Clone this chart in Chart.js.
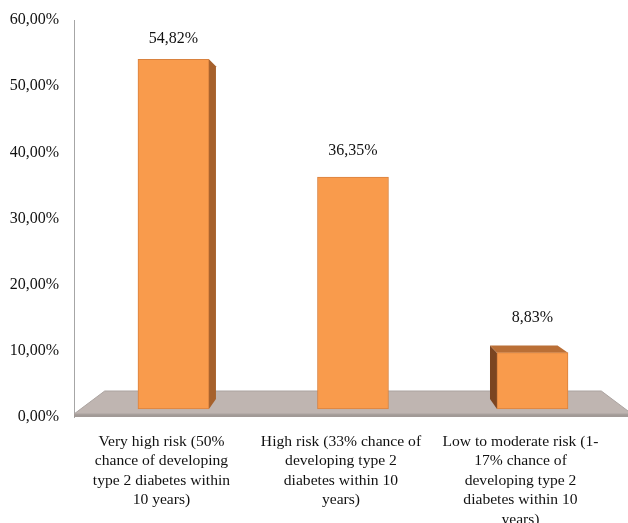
<!DOCTYPE html>
<html>
<head>
<meta charset="utf-8">
<script src="https://cdn.jsdelivr.net/npm/chart.js@4"></script>
<style>
  html, body { margin: 0; padding: 0; background: #ffffff; overflow: hidden; }
  canvas { display: block; }
</style>
</head>
<body>
<canvas id="chart" width="628" height="523"></canvas>
<script>
// Risk groups (wrapped as they appear under the floor)
const categoryLines = [
  ["Very high risk (50%", "chance of developing", "type 2 diabetes within", "10 years)"],
  ["High risk (33% chance of", "developing type 2", "diabetes within 10", "years)"],
  ["Low to moderate risk (1-", "17% chance of", "developing type 2", "diabetes within 10", "years)"]
];
// Share of participants in each group (%)
const riskShare = [54.82, 36.35, 8.83];
// Percentage axis ticks
const percentTicks = [0, 10, 20, 30, 40, 50, 60];

const FONT = "'Liberation Serif', 'Times New Roman', serif";

// Simple perspective: faces recede toward a vanishing point
const VANISH = { x: 353, y: 205 };
const BAR_DEPTH = 0.0486;
const FLOOR_DEPTH = 0.11;

function toward(p, k) {
  return { x: p.x + (VANISH.x - p.x) * k, y: p.y + (VANISH.y - p.y) * k };
}
function fmtPercent(v) {
  return Number(v).toFixed(2).replace('.', ',') + '%';
}
function poly(ctx, pts, fill, stroke) {
  ctx.beginPath();
  ctx.moveTo(pts[0].x, pts[0].y);
  for (let i = 1; i < pts.length; i++) ctx.lineTo(pts[i].x, pts[i].y);
  ctx.closePath();
  ctx.fillStyle = fill;
  ctx.fill();
  if (stroke) { ctx.strokeStyle = stroke; ctx.lineWidth = 1; ctx.stroke(); }
}

const depthPlugin = {
  id: 'depth3d',
  beforeDatasetsDraw(chart) {
    const { ctx, chartArea: a } = chart;
    const edge = 3;
    ctx.save();
    // floor: thin front edge plus receding top face
    const fl = { x: a.left, y: a.bottom - edge };
    const fr = { x: a.right + 4, y: a.bottom - edge };
    const bl = toward(fl, FLOOR_DEPTH);
    const br = toward(fr, FLOOR_DEPTH);
    ctx.fillStyle = '#A29A97';
    ctx.fillRect(a.left, a.bottom - edge, a.right - a.left, edge);
    poly(ctx, [fl, bl, br, fr], '#BFB5B1', '#ABA3A0');

    // side and top faces of each column
    const meta = chart.getDatasetMeta(0);
    meta.data.forEach(bar => {
      const { x, y, base, width } = bar.getProps(['x', 'y', 'base', 'width'], true);
      const L = x - width / 2, R = x + width / 2;
      const ftl = { x: L, y: y }, ftr = { x: R, y: y };
      const fbl = { x: L, y: base }, fbr = { x: R, y: base };
      const btl = toward(ftl, BAR_DEPTH), btr = toward(ftr, BAR_DEPTH);
      const bbl = toward(fbl, BAR_DEPTH), bbr = toward(fbr, BAR_DEPTH);
      if (R < VANISH.x) poly(ctx, [ftr, btr, bbr, fbr], '#A6612C');
      if (L > VANISH.x) poly(ctx, [ftl, btl, bbl, fbl], '#7B4521');
      if (y > VANISH.y) poly(ctx, [ftl, ftr, btr, btl], '#BA6F36');
    });
    ctx.restore();
  },
  afterDatasetsDraw(chart) {
    const { ctx } = chart;
    const meta = chart.getDatasetMeta(0);
    ctx.save();
    ctx.font = '16px ' + FONT;
    ctx.fillStyle = '#111111';
    ctx.textAlign = 'center';
    ctx.textBaseline = 'middle';
    meta.data.forEach((bar, i) => {
      const { x, y } = bar.getProps(['x', 'y'], true);
      const backTop = toward({ x: x, y: y }, BAR_DEPTH).y;
      ctx.fillText(fmtPercent(riskShare[i]), x, backTop - 28);
    });
    ctx.restore();
  }
};

new Chart(document.getElementById('chart'), {
  type: 'bar',
  data: {
    datasets: [{
      data: riskShare.map((v, i) => ({ x: i, y: v })),
      xAxisID: 'x',
      yAxisID: 'yb',
      backgroundColor: '#F99B4C',
      borderColor: '#D9823F',
      borderWidth: 1,
      borderSkipped: false,
      barThickness: 71
    }]
  },
  options: {
    responsive: false,
    animation: false,
    devicePixelRatio: 1,
    layout: { padding: { top: 20, right: 0, bottom: 0, left: 0 } },
    plugins: { legend: { display: false }, tooltip: { enabled: false } },
    scales: {
      x: {
        type: 'linear',
        position: 'bottom',
        min: -0.554,
        max: 2.532,
        offset: false,
        grid: { display: false, drawTicks: false },
        border: { display: false },
        afterBuildTicks: s => { s.ticks = categoryLines.map((_, i) => ({ value: i })); },
        afterFit: s => { s.height = 106; s.paddingLeft = 0; s.paddingRight = 0; },
        ticks: {
          autoSkip: false,
          maxRotation: 0,
          minRotation: 0,
          padding: 15,
          labelOffset: -12,
          color: '#111111',
          font: { family: FONT, size: 15.6, lineHeight: 1.25 },
          callback: v => categoryLines[v]
        }
      },
      y: {
        type: 'linear',
        position: 'left',
        min: 0,
        max: 60,
        grid: { display: false, drawTicks: false },
        border: { display: true, color: '#A6A6A6', width: 1 },
        afterBuildTicks: s => { s.ticks = percentTicks.map(v => ({ value: v })); },
        afterFit: s => { s.width = 74; s.paddingTop = 0; s.paddingBottom = 0; },
        ticks: {
          padding: 15,
          color: '#111111',
          font: { family: FONT, size: 16 },
          callback: v => fmtPercent(v)
        }
      },
      yb: {
        type: 'linear',
        display: false,
        min: -1.254,
        max: 60.97
      }
    }
  },
  plugins: [depthPlugin]
});
</script>
</body>
</html>
